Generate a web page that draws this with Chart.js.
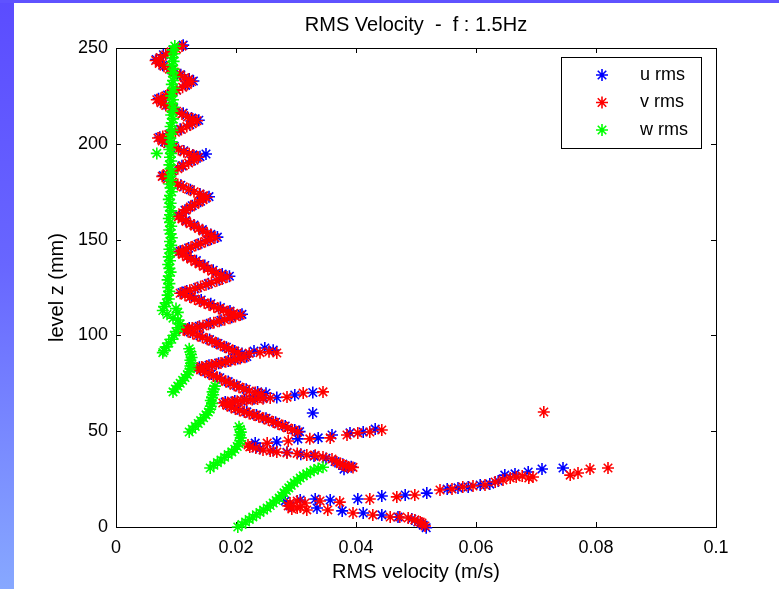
<!DOCTYPE html>
<html lang="en">
<head>
    <meta charset="UTF-8">
    <title>RMS Velocity - f : 1.5Hz</title>
    <script src="https://cdn.jsdelivr.net/npm/chart.js@4.4.1/dist/chart.umd.min.js"></script>
    <style>
        * { margin: 0; padding: 0; box-sizing: border-box; }
        body { background: #ffffff; width: 779px; height: 589px; overflow: hidden; }
        .wrap { position: relative; width: 779px; height: 589px; }
        .strip-left {
            position: absolute; left: 0; top: 0; width: 14px; height: 589px;
            background: linear-gradient(180deg, #5b4cff 0%, #6866ff 45%, #87a8ff 100%);
        }
        .strip-top {
            position: absolute; left: 0; top: 0; width: 779px; height: 3px;
            background: #5f52ff;
        }
        canvas { position: absolute; left: 0; top: 0; }
    </style>
</head>
<body>
<div class="wrap">
    <canvas id="rmsChart" width="779" height="589"></canvas>
    <div class="strip-left"></div>
    <div class="strip-top"></div>
</div>

<script>
    // axis ticks
    const xTickValues = [0, 0.02, 0.04, 0.06, 0.08, 0.1];
    const xTickLabels = ['0', '0.02', '0.04', '0.06', '0.08', '0.1'];
    const yTickValues = [0, 50, 100, 150, 200, 250];
    const yTickLabels = ['0', '50', '100', '150', '200', '250'];

    const seriesNames = ['u rms', 'v rms', 'w rms'];
    const seriesColors = ['#0000ff', '#ff0000', '#00ff00'];

    // [rms velocity (m/s), level z (mm)]
    const uRms = [
        [0.0112,251.5],[0.0095,249],[0.0079,246.5],[0.0067,244],
        [0.0078,241],[0.0093,238.5],[0.0108,236],[0.0122,233.8],[0.0129,232.8],
        [0.0116,230.5],[0.0101,228],[0.0086,225.5],[0.0071,223.5],
        [0.0080,221],[0.0096,218.5],[0.0112,216],[0.0126,213.5],[0.0138,212.3],
        [0.0123,210],[0.0107,207.6],[0.0090,205.2],[0.0073,203.4],
        [0.0081,201],[0.0097,198.7],[0.0113,196.3],[0.0128,194.2],[0.0140,193.3],[0.0150,194.7],
        [0.0126,191],[0.0110,188.5],[0.0094,186],[0.0079,183.4],
        [0.0091,180.8],[0.0108,178.4],[0.0124,176],[0.0140,173.8],[0.0155,172.4],
        [0.0141,170],[0.0127,167.7],[0.0115,165.3],[0.0106,162.5],
        [0.0116,160],[0.0130,157.6],[0.0144,155.2],[0.0158,152.7],[0.0169,151.3],
        [0.0153,149.6],[0.0137,147.6],[0.0121,145.6],[0.0107,143.9],
        [0.0120,141.5],[0.0134,139],[0.0148,136.5],[0.0162,134],[0.0177,132],[0.0189,130.9],
        [0.0172,129],[0.0154,127],[0.0136,125],[0.0118,123.2],[0.0110,122.4],
        [0.0126,120.5],[0.0142,118.5],[0.0158,116.5],[0.0174,114.5],[0.0190,112.7],[0.0210,111],
        [0.0193,109.5],[0.0175,107.9],[0.0157,106.3],[0.0139,104.8],[0.0122,103.8],[0.0114,103.4],
        [0.0124,101.8],[0.0140,99.8],[0.0156,97.8],[0.0170,95.8],[0.0184,93.8],[0.0198,91.8],
        [0.0210,90.6],[0.0230,91.8],[0.0248,93.4],[0.0262,92.3],
        [0.0139,83.4],[0.0155,84.4],[0.0171,85.5],[0.0187,86.7],[0.0203,87.9],[0.0218,89],
        [0.0145,81.8],[0.0159,79.9],[0.0173,77.9],[0.0187,75.9],[0.0201,73.9],[0.0217,71.9],[0.0236,70.5],[0.0250,69.8],
        [0.0182,65.2],[0.0198,65.8],[0.0214,66.4],[0.0230,67],[0.0246,67.4],[0.0268,67.6],[0.0298,68.9],[0.0328,70.2],
        [0.0328,59.5],
        [0.0189,63.4],[0.0203,61.7],[0.0218,60.1],[0.0234,58.5],[0.0250,56.7],[0.0266,54.7],[0.0282,52.7],[0.0298,50.6],[0.0306,49.8],
        [0.0232,43.8],[0.0268,44.4],[0.0303,46],[0.0337,46.5],[0.0360,48],[0.0390,49.1],[0.0412,49.6],[0.0432,51.1],
        [0.0228,42],[0.0240,41],[0.0262,39.9],[0.0285,39],[0.0308,38],[0.0330,37],[0.0350,35.8],[0.0365,34.2],[0.0378,32.8],[0.0392,31.5],[0.0380,30.2],
        [0.0282,13.6],[0.0307,14.1],[0.0332,14.6],[0.0357,14.1],[0.0403,14.6],[0.0443,16.2],[0.0482,16.7],[0.0518,17.7],
        [0.0552,19.8],[0.0570,20.4],[0.0587,20.9],[0.0607,21.9],[0.0623,22.4],[0.0637,24],[0.0648,27.1],[0.0665,27.7],
        [0.0687,28.7],[0.0710,30.3],[0.0745,30.8],
        [0.0290,11],[0.0335,9.9],[0.0377,8.4],[0.0412,7.3],[0.0443,6.3],[0.0470,5.2],[0.0493,4.2],[0.0503,2.6],[0.0512,1],[0.0517,-0.4]
    ];

    const vRms = [
        [0.0110,251],[0.0101,249.5],[0.0092,248],[0.0083,246.5],[0.0074,245],[0.0066,243.5],
        [0.0072,242],[0.0080,240.5],[0.0089,239],[0.0097,237.5],[0.0106,236],[0.0114,234.5],[0.0121,233.5],[0.0126,232.5],
        [0.0119,231],[0.0111,229.5],[0.0101,228],[0.0092,226.5],[0.0083,225],[0.0075,223.8],[0.0068,223],
        [0.0075,221.5],[0.0083,220],[0.0092,218.5],[0.0101,217],[0.0110,215.5],[0.0119,214],[0.0128,213],[0.0135,212],
        [0.0127,210.5],[0.0118,209],[0.0109,207.5],[0.0099,206],[0.0088,204.8],[0.0078,203.8],[0.0070,203],
        [0.0077,201.5],[0.0086,200],[0.0095,198.5],[0.0104,197],[0.0113,195.8],[0.0122,194.8],[0.0130,193.8],[0.0137,193],
        [0.0130,191.5],[0.0121,190],[0.0112,188.5],[0.0103,187],[0.0094,185.8],[0.0085,184.5],[0.0077,183],
        [0.0085,181.5],[0.0094,180],[0.0103,178.8],[0.0112,177.5],[0.0121,176.3],[0.0130,175],[0.0139,173.8],[0.0146,172.8],[0.0151,172],
        [0.0145,170.8],[0.0138,169.5],[0.0131,168.3],[0.0124,167],[0.0117,165.5],[0.0111,164],[0.0104,162],
        [0.0110,160.8],[0.0117,159.5],[0.0124,158.3],[0.0131,157],[0.0138,155.8],[0.0145,154.5],[0.0152,153.3],[0.0159,152],[0.0165,151],
        [0.0157,150],[0.0149,149],[0.0141,148],[0.0133,147],[0.0125,146],[0.0117,145],[0.0110,144],[0.0104,143.5],
        [0.0111,142.3],[0.0118,141],[0.0125,139.8],[0.0132,138.5],[0.0139,137.3],[0.0146,136],[0.0153,134.8],[0.0160,133.5],[0.0167,132.5],[0.0175,131.5],[0.0185,130.5],
        [0.0177,129.5],[0.0168,128.5],[0.0159,127.5],[0.0150,126.5],[0.0141,125.5],[0.0132,124.5],[0.0123,123.5],[0.0115,122.8],[0.0107,122],
        [0.0115,121],[0.0123,120],[0.0131,119],[0.0139,118],[0.0147,117],[0.0155,116],[0.0163,115],[0.0171,114],[0.0179,113.2],[0.0187,112.4],[0.0196,111.5],[0.0207,110.6],
        [0.0199,109.8],[0.0190,109],[0.0181,108.2],[0.0172,107.4],[0.0163,106.6],[0.0154,105.8],[0.0145,105],[0.0136,104.4],[0.0127,103.8],[0.0119,103.4],[0.0112,103],
        [0.0120,102],[0.0128,101],[0.0136,100],[0.0144,99],[0.0152,98],[0.0160,97],[0.0167,96],[0.0174,95],[0.0181,94],[0.0188,93],[0.0195,92],[0.0203,91],
        [0.0222,90.6],[0.0240,91],[0.0255,91.5],[0.0268,90.8],
        [0.0135,83],[0.0143,83.5],[0.0151,84],[0.0159,84.5],[0.0167,85],[0.0175,85.6],[0.0183,86.2],[0.0191,86.8],[0.0199,87.4],[0.0207,88],[0.0215,88.6],
        [0.0141,82],[0.0148,81],[0.0155,80],[0.0162,79],[0.0169,78],[0.0176,77],[0.0183,76],[0.0190,75],[0.0197,74],[0.0205,73],[0.0213,72],[0.0222,71],[0.0232,70.2],[0.0242,69.5],
        [0.0178,64.7],[0.0186,65],[0.0194,65.3],[0.0202,65.6],[0.0210,65.9],[0.0218,66.2],[0.0227,66.5],[0.0236,66.8],[0.0245,67],[0.0257,67.3],[0.0285,67.8],[0.0312,69.9],[0.0345,70.5],
        [0.0185,63.5],[0.0192,62.5],[0.0199,61.6],[0.0206,60.8],[0.0214,60],[0.0222,59.2],[0.0230,58.4],[0.0238,57.6],[0.0246,56.7],[0.0254,55.8],[0.0262,54.8],[0.0270,53.8],[0.0278,52.8],[0.0286,51.7],[0.0294,50.6],[0.0303,49.6],
        [0.0220,42.8],[0.0252,43.8],[0.0287,44.9],[0.0323,46],[0.0357,46.5],[0.0385,48],[0.0403,49.1],[0.0423,49.6],[0.0443,50.6],
        [0.0223,41.8],[0.0233,41.2],[0.0245,40.2],[0.0257,39.7],[0.0268,39.1],[0.0285,38.6],[0.0302,38.4],[0.0318,37.6],[0.0332,37.4],[0.0345,36.5],[0.0360,35.5],[0.0368,33.9],[0.0374,33],[0.0378,32.4],[0.0383,31.8],[0.0387,31.3],[0.0395,31.1],
        [0.0713,60],
        [0.0290,12.5],[0.0302,13.6],[0.0315,12.5],[0.0340,13.6],[0.0373,13],[0.0423,14.6],[0.0468,15.7],[0.0498,16.7],
        [0.0540,19.3],[0.0560,19.8],[0.0578,20.9],[0.0595,21.4],[0.0615,21.9],[0.0632,23.5],[0.0645,24.5],[0.0657,25.6],
        [0.0667,26.1],[0.0677,26.6],[0.0688,25.6],[0.0695,26.1],[0.0757,27.1],[0.0770,28.2],[0.0790,30.3],[0.0820,30.8],
        [0.0287,11],[0.0293,9.4],[0.0307,10.4],
        [0.0302,9.9],[0.0318,8.9],[0.0353,8.9],[0.0395,7.3],[0.0428,6.3],[0.0457,5.2],[0.0473,5.2],[0.0487,4.7],[0.0498,3.7],[0.0507,2.6],[0.0510,2.1],[0.0515,0.5]
    ];

    const wRms = [
        [0.0098,251],[0.0095,249],[0.0097,247],[0.0094,245],[0.0096,243],[0.0093,241],[0.0096,239],[0.0094,237],[0.0097,235],
        [0.0095,233],[0.0093,231],[0.0096,229],[0.0094,227],[0.0092,225],[0.0095,223],[0.0093,221],[0.0096,219],[0.0094,217],
        [0.0092,215],[0.0095,213],[0.0093,211],[0.0091,209],[0.0094,207],[0.0092,205],[0.0090,203],[0.0093,201],[0.0091,199],
        [0.0089,197],[0.0068,195],[0.0092,195],[0.0090,193],[0.0092,191],[0.0089,189],[0.0091,187],[0.0093,185],[0.0090,183],
        [0.0092,181],[0.0089,179],[0.0091,177],[0.0093,175],[0.0090,173],[0.0088,171],[0.0091,169],[0.0089,167],[0.0092,165],
        [0.0090,163],[0.0088,161],[0.0090,159],[0.0092,157],[0.0089,155],[0.0091,153],[0.0093,151],[0.0090,149],[0.0092,147],
        [0.0089,145],[0.0091,143],[0.0088,141],[0.0090,139],[0.0087,137],[0.0089,135],[0.0091,133],[0.0088,131],[0.0086,129],
        [0.0089,127],[0.0087,125],[0.0089,123],[0.0086,121],[0.0088,119],[0.0084,117],[0.0080,115],[0.0078,113],[0.0100,114],
        [0.0103,112],[0.0085,111],[0.0095,109],[0.0103,108],[0.0107,106],[0.0104,104],[0.0100,102],[0.0097,100],[0.0093,98],
        [0.0088,96],[0.0084,94],[0.0080,92],[0.0078,91],
        [0.0095,70.5],[0.0099,72],[0.0103,73.5],[0.0107,75],[0.0111,76.5],[0.0115,78],[0.0119,79.5],[0.0122,81],[0.0124,82.5],
        [0.0124,84],[0.0125,85.5],[0.0124,87],[0.0126,88.5],[0.0125,90],[0.0124,91.5],[0.0122,93],
        [0.0122,49.6],[0.0127,51],[0.0132,52.5],[0.0137,54],[0.0141,55.5],[0.0146,57],[0.0150,58.5],[0.0154,60],[0.0157,61.5],
        [0.0158,63],[0.0160,64.5],[0.0158,66],[0.0160,67.5],[0.0162,69],[0.0161,70.5],[0.0163,72],[0.0165,73.5],
        [0.0157,30.8],[0.0163,32.2],[0.0169,33.6],[0.0175,35],[0.0181,36.4],[0.0187,37.8],[0.0193,39.2],[0.0198,40.6],
        [0.0202,42],[0.0205,43.5],[0.0207,45],[0.0208,46.5],[0.0206,48],[0.0208,49.5],[0.0207,51],[0.0205,52.3],
        [0.0203,0],[0.0210,1.3],[0.0216,2.6],[0.0222,3.9],[0.0228,5.2],[0.0234,6.4],[0.0240,7.6],[0.0246,8.8],[0.0252,9.9],
        [0.0257,11.2],[0.0262,12.5],[0.0267,13.8],[0.0272,15.1],[0.0276,16.4],[0.0280,17.8],[0.0284,19.1],[0.0288,20.4],
        [0.0292,21.7],[0.0297,23],[0.0302,24.3],[0.0307,25.6],[0.0312,26.7],[0.0318,27.7],[0.0324,28.7],[0.0330,29.7],
        [0.0337,30.5],[0.0345,31.2]
    ];

    const FONT = "'Liberation Sans', Arial, Helvetica, sans-serif";
    Chart.defaults.font.family = FONT;
    Chart.defaults.color = '#000';

    function drawStar(ctx, cx, cy, r, color) {
        const d = r * Math.SQRT1_2;
        ctx.strokeStyle = color;
        ctx.lineWidth = 1.6;
        ctx.beginPath();
        ctx.moveTo(cx - r, cy); ctx.lineTo(cx + r, cy);
        ctx.moveTo(cx, cy - r); ctx.lineTo(cx, cy + r);
        ctx.moveTo(cx - d, cy - d); ctx.lineTo(cx + d, cy + d);
        ctx.moveTo(cx - d, cy + d); ctx.lineTo(cx + d, cy - d);
        ctx.stroke();
    }

    // matlab style box with inward ticks
    const boxPlugin = {
        id: 'box',
        beforeDatasetsDraw(chart) {
            const { ctx, chartArea: a, scales: { x, y } } = chart;
            ctx.save();
            ctx.strokeStyle = '#000';
            ctx.lineWidth = 1;
            ctx.strokeRect(a.left + 0.5, a.top + 0.5, a.right - a.left, a.bottom - a.top);
            ctx.beginPath();
            xTickValues.forEach(v => {
                const px = Math.round(x.getPixelForValue(v)) + 0.5;
                ctx.moveTo(px, a.bottom); ctx.lineTo(px, a.bottom - 5);
                ctx.moveTo(px, a.top); ctx.lineTo(px, a.top + 5);
            });
            yTickValues.forEach(v => {
                const py = Math.round(y.getPixelForValue(v)) + 0.5;
                ctx.moveTo(a.left, py); ctx.lineTo(a.left + 5, py);
                ctx.moveTo(a.right, py); ctx.lineTo(a.right - 5, py);
            });
            ctx.stroke();
            ctx.restore();
        },
        afterDatasetsDraw(chart) {
            // legend box, top right inside the axes
            const { ctx, chartArea: a } = chart;
            const w = 140, h = 91;
            const left = a.right - 15 - w, top = a.top + 9;
            ctx.save();
            ctx.fillStyle = '#fff';
            ctx.fillRect(left, top, w, h);
            ctx.strokeStyle = '#000';
            ctx.lineWidth = 1;
            ctx.strokeRect(left + 0.5, top + 0.5, w, h);
            ctx.font = '18px ' + FONT;
            ctx.textBaseline = 'middle';
            ctx.fillStyle = '#000';
            seriesNames.forEach((name, i) => {
                const cy = top + 18 + i * 27.5;
                drawStar(ctx, left + 41, cy, 6, seriesColors[i]);
                ctx.fillText(name, left + 79, cy);
            });
            ctx.restore();
        }
    };

    const toPoints = arr => arr.map(p => ({ x: p[0], y: p[1] }));
    const makeSet = (label, arr, color, order) => ({
        label: label,
        data: toPoints(arr),
        pointStyle: 'star',
        pointRadius: 6,
        pointBorderWidth: 1.6,
        borderColor: color,
        backgroundColor: color,
        showLine: false,
        clip: false,
        order: order
    });

    new Chart(document.getElementById('rmsChart'), {
        type: 'scatter',
        data: {
            datasets: [
                makeSet(seriesNames[0], uRms, seriesColors[0], 3),
                makeSet(seriesNames[1], vRms, seriesColors[1], 2),
                makeSet(seriesNames[2], wRms, seriesColors[2], 1)
            ]
        },
        plugins: [boxPlugin],
        options: {
            responsive: false,
            animation: false,
            events: [],
            layout: { padding: { left: 0, right: 63, top: 0, bottom: 0 } },
            plugins: {
                legend: { display: false },
                tooltip: { enabled: false },
                title: {
                    display: true,
                    text: 'RMS Velocity  -  f : 1.5Hz',
                    fullSize: false,
                    color: '#000',
                    font: { size: 20, weight: 'normal', lineHeight: 1.2 },
                    padding: { top: 13, bottom: 11 }
                }
            },
            scales: {
                x: {
                    type: 'linear',
                    min: 0,
                    max: 0.1,
                    grid: { display: false, drawTicks: false },
                    border: { display: false },
                    afterBuildTicks: s => { s.ticks = xTickValues.map(v => ({ value: v })); },
                    afterFit: s => { s.height = 62; },
                    ticks: {
                        autoSkip: false,
                        maxRotation: 0,
                        padding: 10,
                        font: { size: 18 },
                        callback: (val, i) => xTickLabels[i]
                    },
                    title: {
                        display: true,
                        text: 'RMS velocity (m/s)',
                        font: { size: 20, lineHeight: 1.2 },
                        padding: { top: 0, bottom: 5 }
                    }
                },
                y: {
                    type: 'linear',
                    min: 0,
                    max: 250,
                    grid: { display: false, drawTicks: false },
                    border: { display: false },
                    afterBuildTicks: s => { s.ticks = yTickValues.map(v => ({ value: v })); },
                    afterFit: s => { s.width = 116; },
                    ticks: {
                        autoSkip: false,
                        padding: 8,
                        font: { size: 18 },
                        callback: (val, i) => yTickLabels[i]
                    },
                    title: {
                        display: true,
                        text: 'level z (mm)',
                        font: { size: 20, lineHeight: 1.2 },
                        padding: { top: 45, bottom: 0 }
                    }
                }
            }
        }
    });
</script>
</body>
</html>
